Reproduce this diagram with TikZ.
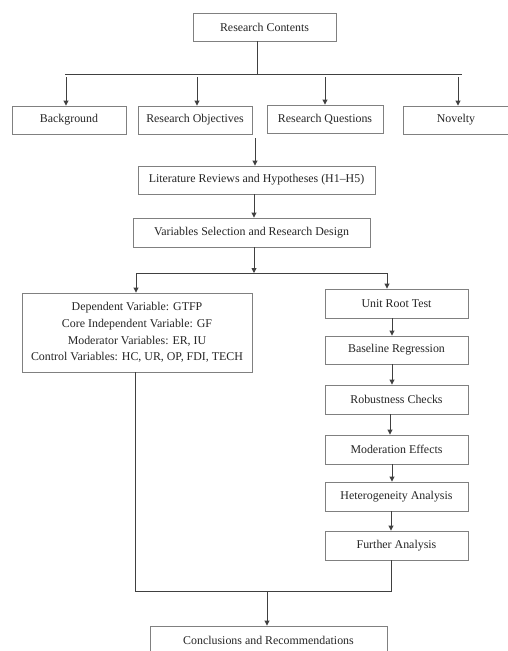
\documentclass[tikz,border=0pt]{standalone}
\usepackage{fontspec}
\setmainfont{Liberation Serif}
\usetikzlibrary{arrows.meta}
\begin{document}
\begin{tikzpicture}[x=1pt,y=-1pt,
  box/.style={draw=black!50,line width=0.9pt,fill=white,inner sep=0pt,align=center,
    font=\fontsize{11.9}{16.7}\selectfont\color{black!85}},
  ln/.style={draw=black!75,line width=0.9pt},
  arr/.style={ln,-{Triangle[length=5pt,width=5pt]}}]
\useasboundingbox (0,0) rectangle (507,651);
% nodes
\node[box,minimum width=143,minimum height=28] (rc) at (264.5,27) {Research Contents};
\node[box,minimum width=114,minimum height=28] (bg) at (69,120) {Background};
\node[box,minimum width=114,minimum height=28] (ro) at (195,120) {Research Objectives};
\node[box,minimum width=116,minimum height=28] (rq) at (325,119) {Research Questions};
\node[box,minimum width=106,minimum height=28] (nov) at (456,120) {Novelty};
\node[box,minimum width=237,minimum height=28] (lit) at (256.5,180) {Literature Reviews and Hypotheses (H1--H5)};
\node[box,minimum width=237,minimum height=29] (var) at (251.5,232.5) {Variables Selection and Research Design};
\node[box,minimum width=230,minimum height=79] (lv) at (137,332.5) {Dependent Variable: GTFP\\Core Independent Variable: GF\\Moderator Variables: ER, IU\\Control Variables: HC, UR, OP, FDI, TECH};
\node[box,minimum width=143,minimum height=29] (urt) at (396.5,303.5) {Unit Root Test};
\node[box,minimum width=143,minimum height=28] (br) at (396.5,350) {Baseline Regression};
\node[box,minimum width=143,minimum height=29] (rob) at (396.5,399.5) {Robustness Checks};
\node[box,minimum width=143,minimum height=29] (mod) at (396.5,449.5) {Moderation Effects};
\node[box,minimum width=143,minimum height=29] (het) at (396.5,496.5) {Heterogeneity Analysis};
\node[box,minimum width=143,minimum height=29] (fa) at (396.5,545.5) {Further Analysis};
\node[box,minimum width=237,minimum height=28] (conc) at (268.5,640) {Conclusions and Recommendations};
% junction coordinates
\coordinate (b1) at (257,74);
\coordinate (bL) at (65,74);
\coordinate (bR) at (462,74);
\coordinate (t1) at (66,77);
\coordinate (t2) at (197,77);
\coordinate (t3) at (325,77);
\coordinate (t4) at (458,77);
\coordinate (o1) at (255,138);
\coordinate (b2) at (254,273);
\coordinate (b2L) at (136,273);
\coordinate (b2R) at (387,273);
\coordinate (j1) at (135,591);
\coordinate (j2) at (391,591);
\coordinate (j3) at (267,591);
% connectors
\draw[ln] (rc.south -| b1) -- (b1);
\draw[ln] (bL) -- (bR);
\draw[arr] (t1) -- (t1 |- bg.north);
\draw[arr] (t2) -- (t2 |- ro.north);
\draw[arr] (t3) -- (t3 |- rq.north);
\draw[arr] (t4) -- (t4 |- nov.north);
\draw[arr] (o1) -- (o1 |- lit.north);
\draw[arr] (lit.south -| 254,0) -- (var.north -| 254,0);
\draw[arr] (var.south -| b2) -- (b2);
\draw[ln] (b2L) -- (b2R);
\draw[arr] (b2L) -- (b2L |- lv.north);
\draw[arr] (b2R) -- (b2R |- urt.north);
\draw[arr] (urt.south -| 392,0) -- (br.north -| 392,0);
\draw[arr] (br.south -| 392,0) -- (rob.north -| 392,0);
\draw[arr] (rob.south -| 390,0) -- (mod.north -| 390,0);
\draw[arr] (mod.south -| 392,0) -- (het.north -| 392,0);
\draw[arr] (het.south -| 391,0) -- (fa.north -| 391,0);
\draw[ln] (lv.south -| j1) -- (j1) -- (j2) -- (fa.south -| j2);
\draw[arr] (j3) -- (j3 |- conc.north);
\end{tikzpicture}
\end{document}
